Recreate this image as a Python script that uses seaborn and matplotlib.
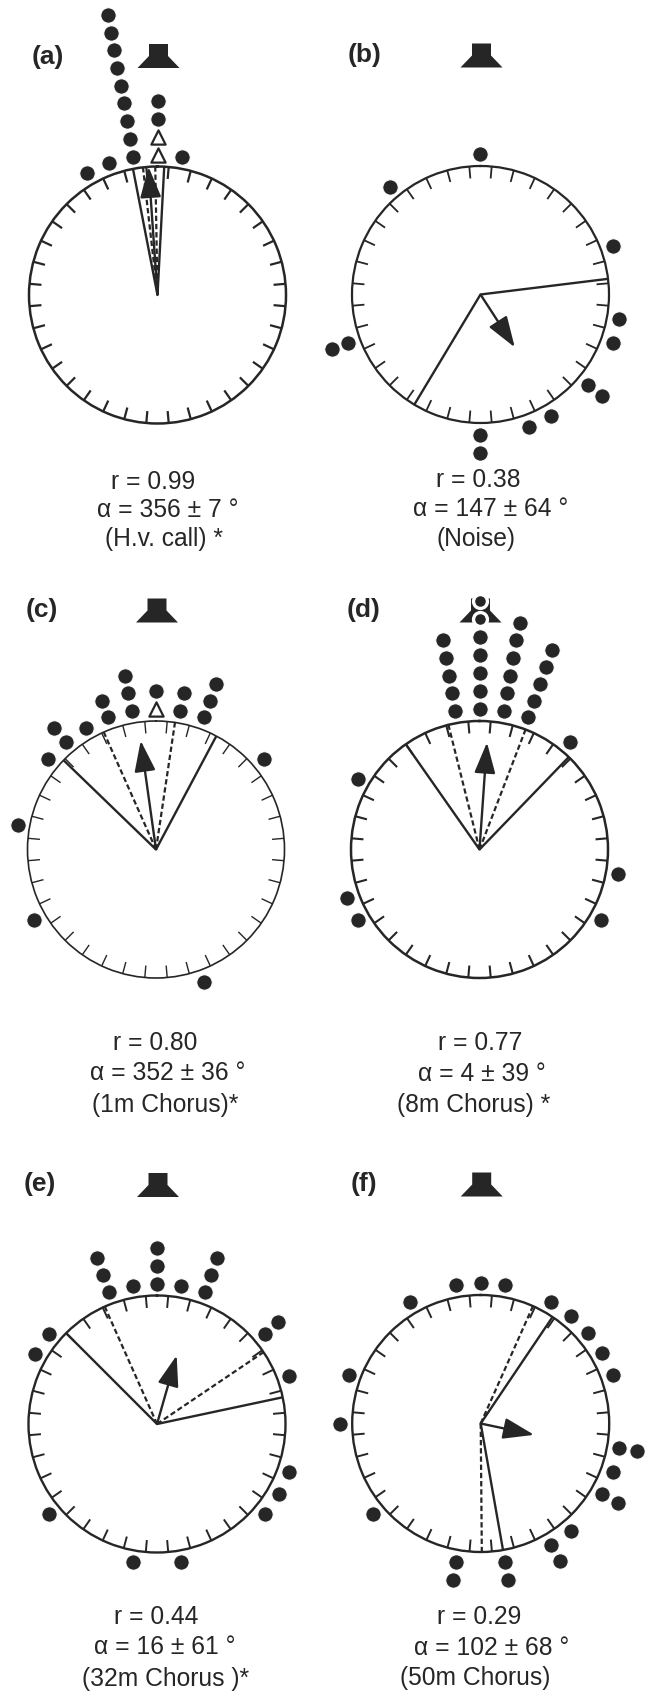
import numpy as np
import pandas as pd
import matplotlib.pyplot as plt
import seaborn as sns

W, H = 645, 1696
R = 128.5
INK = '#262626'

panels = ['(a)', '(b)', '(c)', '(d)', '(e)', '(f)']

# orientation angle (deg) and stack position of each frog, by panel
angles_a = [330, 340, 350, 350, 350, 350, 350, 350, 350, 350, 350, 0, 0, 10]
rings_a = [1, 1, 1, 2, 3, 4, 5, 6, 7, 8, 9, 3, 4, 1]
angles_b = [0, 320, 70, 100, 110, 130, 130, 150, 160, 180, 180, 250, 250]
rings_b = [1, 1, 1, 1, 1, 1, 2, 1, 1, 1, 2, 1, 2]
angles_c = [0, 350, 350, 350, 10, 10, 340, 340, 330, 20, 20, 20, 320, 320, 310, 50, 280, 240, 160]
rings_c = [2, 1, 2, 3, 1, 2, 1, 2, 1, 1, 2, 3, 1, 2, 1, 1, 1, 1, 1]
angles_d = [0, 0, 0, 0, 0, 0, 0, 350, 350, 350, 350, 350, 10, 10, 10, 10, 10, 10,
            20, 20, 20, 20, 20, 40, 300, 100, 120, 240, 250]
rings_d = [1, 2, 3, 4, 5, 6, 7, 1, 2, 3, 4, 5, 1, 2, 3, 4, 5, 6,
           1, 2, 3, 4, 5, 1, 1, 1, 1, 1, 1]
angles_e = [0, 0, 0, 350, 10, 340, 340, 340, 20, 20, 20, 310, 300, 50, 50, 70, 110, 120, 130, 170, 190, 230]
rings_e = [1, 2, 3, 1, 1, 1, 2, 3, 1, 2, 3, 1, 1, 1, 2, 1, 1, 1, 1, 1, 1, 1]
angles_f = [0, 350, 10, 330, 30, 40, 50, 60, 70, 290, 270, 100, 100, 110, 120, 120,
            140, 150, 150, 170, 170, 190, 190, 230]
rings_f = [1, 1, 1, 1, 1, 1, 1, 1, 1, 1, 1, 1, 2, 1, 1, 2,
           1, 1, 2, 1, 2, 1, 2, 1]
dot_angles = [angles_a, angles_b, angles_c, angles_d, angles_e, angles_f]
dot_rings = [rings_a, rings_b, rings_c, rings_d, rings_e, rings_f]

# open triangles: angle, stack position
tri_angles = [[0, 0], [], [0], [], [], []]
tri_rings = [[1, 2], [], [1], [], [], []]

# mean vector
mean_dir = [356, 147, 352, 4, 16, 102]
arrow_len = [1.0, 0.49, 0.855, 0.835, 0.555, 0.425]

# confidence limits, solid and dashed
solid_low = [349, 83, 314, 325, 315, 34]
solid_high = [3, 211, 28, 44, 78, 170]
dash_low = [353.5, None, 336, 346, 336, 24]
dash_high = [359, None, 8.5, 21, 56, 179.5]

line_r = ['r = 0.99', 'r = 0.38', 'r = 0.80', 'r = 0.77', 'r = 0.44', 'r = 0.29']
line_alpha = ['α = 356 ± 7 °', 'α = 147 ± 64 °', 'α = 352 ± 36 °',
              'α = 4 ± 39 °', 'α = 16 ± 61 °', 'α = 102 ± 68 °']
line_name = ['(H.v. call) *', '(Noise)', '(1m Chorus)*', '(8m Chorus) *', '(32m Chorus )*', '(50m Chorus)']

# layout in pixels
centers = [(157.5, 295), (480.5, 294.5), (156, 849.5), (479.5, 849.5), (157, 1424), (480.7, 1423.5)]
label_pos = [(32, 57), (347.5, 55), (26, 610), (347, 610), (24, 1184), (351, 1184)]
text_x = [(153.3, 168, 163.7), (478, 491, 476.5), (154.7, 167.8, 164.8),
          (480.3, 481.7, 474), (156, 165, 166), (478.7, 491.7, 475.3)]
text_y = [(480, 508, 537.7), (478.6, 507, 537.5), (1041.7, 1071.7, 1103),
          (1041.7, 1072, 1103), (1615.3, 1645.3, 1677.7), (1615, 1646, 1676)]
circle_lw = [1.8, 1.6, 1.2, 1.8, 1.7, 1.7]
tick_lw = [1.6, 1.3, 1.0, 1.5, 1.4, 1.4]

sns.set_style('white')
plt.rcParams['font.family'] = ['Liberation Sans', 'DejaVu Sans']

fig = plt.figure(figsize=(W / 100, H / 100), dpi=100, facecolor='white')
page = fig.add_axes([0, 0, 1, 1], zorder=0)
page.set_xlim(0, W)
page.set_ylim(H, 0)
page.axis('off')

speaker_x = np.array([-9.5, 9.5, 9.5, 21, -21, -9.5])
speaker_y = np.array([-227 - 24, -227 - 24, -227 - 12, -227, -227, -227 - 12])

for i in range(6):
    cx, cy = centers[i]
    ax = fig.add_axes([(cx - R) / W, 1 - (cy + R) / H, 2 * R / W, 2 * R / H],
                      projection='polar', zorder=1)
    ax.patch.set_alpha(0)
    ax.set_theta_zero_location('N')
    ax.set_theta_direction(-1)

    dots = pd.DataFrame({'angle': dot_angles[i], 'ring': dot_rings[i]})
    dots['theta'] = np.deg2rad(dots['angle'])
    dots['radius'] = (140.5 + 18 * (dots['ring'] - 1)) / R
    # dots over the speaker get a white halo
    over = (dots['angle'] == 0) & (dots['ring'] >= 6)
    sns.scatterplot(data=dots[~over], x='theta', y='radius', ax=ax, color=INK, s=122, linewidth=0.7,
                    edgecolor='white', clip_on=False, legend=False, zorder=4)
    if over.any():
        sns.scatterplot(data=dots[over], x='theta', y='radius', ax=ax, color=INK, s=100, linewidth=2.4,
                        edgecolor='white', clip_on=False, legend=False, zorder=4)
    if tri_angles[i]:
        tris = pd.DataFrame({'theta': np.deg2rad(tri_angles[i]),
                             'radius': (140.5 + 18 * (np.array(tri_rings[i]) - 1)) / R})
        sns.scatterplot(data=tris, x='theta', y='radius', ax=ax, marker='^', color='white', s=105,
                        edgecolor=INK, linewidth=1.6, clip_on=False, legend=False, zorder=4)

    # ticks every 10 deg, between the bins
    for t in np.deg2rad(np.arange(5, 360, 10)):
        ax.plot([t, t], [1 - 12 / R, 1], color=INK, lw=tick_lw[i], solid_capstyle='butt', zorder=2)

    for a in (solid_low[i], solid_high[i]):
        ax.plot([np.deg2rad(a)] * 2, [0, 1], color=INK, lw=1.7, zorder=3, solid_capstyle='butt')
    if dash_low[i] is not None:
        for a in (dash_low[i], dash_high[i]):
            ax.plot([np.deg2rad(a)] * 2, [0, 1], color=INK, lw=1.6, ls=(0, (2.4, 1.3)), zorder=3)

    ax.annotate('', xy=(np.deg2rad(mean_dir[i]), arrow_len[i]), xytext=(0, 0),
                arrowprops=dict(arrowstyle='-|>,head_length=19,head_width=6.5', mutation_scale=1,
                                color=INK, lw=1.7, shrinkA=0, shrinkB=0), zorder=5)

    ax.set_xlim(0, 2 * np.pi)
    ax.set_ylim(0, 1)
    ax.grid(False)
    ax.set_xticks([])
    ax.set_yticks([])
    ax.set_xlabel('')
    ax.set_ylabel('')
    ax.spines['polar'].set_linewidth(circle_lw[i])
    ax.spines['polar'].set_color(INK)

    page.fill(cx + 1 + speaker_x, cy + speaker_y, color=INK, lw=0)
    page.text(label_pos[i][0], label_pos[i][1], panels[i], fontsize=19, fontweight='bold',
              color=INK, ha='left', va='center')
    for x, y, s in zip(text_x[i], text_y[i], (line_r[i], line_alpha[i], line_name[i])):
        page.text(x, y + 8.6, s, fontsize=17.7, color=INK, ha='center', va='baseline')

fig.savefig('out.png', dpi=100)
